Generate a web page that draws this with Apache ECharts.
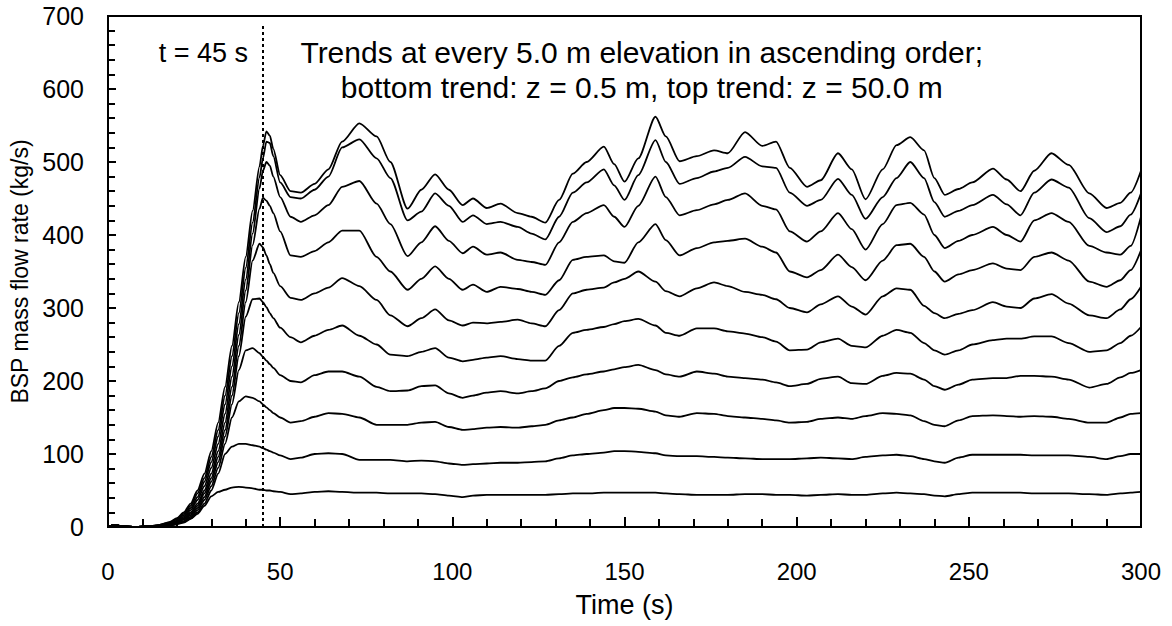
<!DOCTYPE html>
<html>
<head>
<meta charset="utf-8">
<script src="https://cdn.jsdelivr.net/npm/echarts@6/dist/echarts.min.js"></script>
<style>
  html, body { margin: 0; padding: 0; background: #fff; }
  #chart { width: 1172px; height: 626px; }
</style>
</head>
<body>
<div id="chart"></div>
<script>
// Sample times (s)
const time = [0,2,4,8,12,15,18,20,22,24,26,28,30,32,34,36,38,40,42,44,45,46,47,48,50,53,56,60,64,68,73,78,82,87,91,95,99,103,106,110,114,119,123,127,131,135,139,144,147,150,154,159,162,166,171,176,180,185,190,194,198,203,207,212,216,220,225,229,233,237,240,243,247,251,257,261,265,269,274,279,285,290,294,297,300];

// BSP mass flow rate (kg/s), one trend per elevation, bottom (z = 0.5 m) to top (z = 50.0 m)
const trend1 = [0,3,1,0,1, 0,2,4,6,11,18,29,42,48,51, 54,55,54,53,51,51,50,50,49,48, 45,46,48,49,48,47,47,46,46,46, 45,43,41,43,44,44,44,44,44,45, 46,46,47,47,47,47,47,46,45,44, 44,44,45,45,44,44,43,44,45,44, 44,46,47,46,45,43,42,45,47,47, 47,47,46,46,46,45,44,46,47,48];
const trend2 = [0,3,1,0,1, 0,2,4,7,12,20,32,50,73,100, 110,114,114,112,110,108,106,104,102,98, 93,95,100,101,100,92,92,92,90,91, 90,87,85,86,87,88,88,89,90,94, 98,100,102,104,104,103,101,98,97,97, 96,95,94,93,93,93,94,95,94,93, 96,98,99,97,93,90,88,95,99,99, 99,99,98,98,98,96,93,97,100,100];
const trend3 = [0,3,1,0,1, 1,3,5,8,14,23,37,56,81,114, 150,172,179,177,172,168,164,160,156,150, 143,145,151,156,155,150,140,140,140,143, 144,137,133,134,136,137,136,138,140,146, 150,155,160,163,163,162,158,153,151,156, 155,152,150,148,146,143,144,148,150,148, 152,156,155,153,145,140,138,146,152,153, 152,151,152,151,148,143,143,150,155,156];
const trend4 = [0,3,1,0,1, 1,3,6,10,16,26,41,62,89,124, 168,215,242,245,238,233,228,223,218,208, 200,198,208,213,213,206,192,186,187,193, 194,183,177,180,184,186,183,186,190,200, 205,209,213,216,219,222,215,209,206,213, 210,206,204,202,198,193,196,203,206,197, 196,207,211,210,202,193,188,195,202,204, 204,207,207,206,202,191,196,205,211,215];
const trend5 = [0,3,1,0,1, 1,4,6,11,18,29,46,67,96,133, 180,234,288,312,313,308,301,293,286,273, 260,253,262,270,276,262,250,236,234,240, 245,232,227,229,232,234,230,228,228,248, 266,270,274,278,282,285,276,266,262,272, 272,268,265,260,254,242,243,253,258,248, 246,262,270,266,252,242,236,242,250,256, 258,258,261,261,252,240,242,252,262,274];
const trend6 = [0,3,1,0,1, 1,4,7,12,20,32,50,73,104,143, 192,248,308,365,388,383,372,360,348,330, 314,311,320,328,341,330,311,290,275,286, 298,283,276,280,279,281,284,279,275,297, 320,325,328,335,340,350,336,323,316,327, 335,330,322,318,312,300,294,305,316,302, 291,316,327,325,303,293,286,292,297,308, 302,300,313,319,306,290,286,298,312,329];
const trend7 = [0,3,1,0,1, 2,5,8,14,23,37,56,81,114,155, 206,263,324,386,436,451,447,440,430,405, 372,370,378,390,406,406,370,350,325,340, 357,340,325,332,322,329,326,322,318,338, 366,370,372,364,362,390,415,393,372,382, 390,392,395,384,376,350,342,352,373,356, 338,365,386,388,370,350,336,346,352,361, 354,352,370,376,365,336,329,338,352,379];
const trend8 = [0,3,1,0,1, 2,6,10,16,26,41,62,89,124,168, 220,278,339,402,464,488,500,495,480,452, 425,418,427,441,466,474,443,415,371,390, 412,392,375,384,373,376,366,363,359,390, 418,430,441,425,411,440,480,452,427,434, 442,448,457,440,435,405,391,405,430,408, 380,415,441,444,428,400,382,392,400,411, 400,391,420,430,418,385,376,373,385,425];
const trend9 = [0,3,1,0,1, 3,6,11,18,29,46,67,96,133,180, 234,293,355,417,479,505,528,526,508,472, 452,450,462,480,520,531,505,478,420,432, 457,440,418,427,415,418,411,402,394,425, 458,472,490,468,448,482,530,500,470,478, 487,492,507,494,492,458,440,448,477,455, 422,452,478,500,478,445,425,433,441,455, 442,427,458,476,465,423,404,412,428,457];
const trend10 = [0,3,1,0,1, 3,7,12,20,32,50,73,104,143,192, 248,308,370,433,494,522,542,536,518,482, 460,458,470,490,528,553,535,500,436,462, 483,462,441,450,437,443,430,425,417,448, 484,500,521,497,473,505,562,535,501,508, 516,512,541,522,528,492,466,475,512,490, 449,490,523,534,516,478,455,463,472,491, 476,460,488,512,496,457,437,444,458,488];

const trends = [trend1, trend2, trend3, trend4, trend5, trend6, trend7, trend8, trend9, trend10];

// Marked instant and annotation text
const markTime = 45;
const markLabel = 't = 45 s';
const noteLines = [
  'Trends at every 5.0 m elevation in ascending order;',
  'bottom trend: z = 0.5 m, top trend: z = 50.0 m'
];

const FONT = '"Liberation Sans", Arial, Helvetica, sans-serif';

const chart = echarts.init(document.getElementById('chart'), null, { renderer: 'svg' });

const series = trends.map((vals, k) => ({
  type: 'line',
  name: 'trend ' + (k + 1),
  data: time.map((t, i) => [t, vals[i]]),
  showSymbol: false,
  symbol: 'none',
  smooth: 0.25,
  smoothMonotone: 'x',
  lineStyle: { color: '#000', width: 1.8 },
  z: 3
}));

// dotted vertical marker at t = 45 s
series[0].markLine = {
  silent: true,
  symbol: ['none', 'none'],
  label: { show: false },
  lineStyle: { color: '#000', type: [3, 3], width: 2 },
  data: [[{ coord: [markTime, 0] }, { coord: [markTime, 688] }]]
};

const option = {
  animation: false,
  backgroundColor: '#fff',
  grid: {
    left: 108, right: 31, top: 16, bottom: 99,
    show: true, borderColor: '#000', borderWidth: 2, backgroundColor: 'transparent'
  },
  xAxis: {
    type: 'value', min: 0, max: 300, interval: 50,
    name: 'Time (s)', nameLocation: 'middle', nameGap: 64,
    nameTextStyle: { fontFamily: FONT, fontSize: 27, color: '#000' },
    axisLine: { show: true, onZero: false, lineStyle: { color: '#000', width: 2 } },
    axisTick: { show: true, inside: true, length: 10, lineStyle: { color: '#000', width: 2 } },
    minorTick: { show: true, splitNumber: 5, length: 8, lineStyle: { color: '#000', width: 2 } },
    axisLabel: { margin: 32, fontFamily: FONT, fontSize: 24, color: '#000' },
    splitLine: { show: false }, minorSplitLine: { show: false }
  },
  yAxis: {
    type: 'value', min: 0, max: 700, interval: 100,
    name: 'BSP mass flow rate (kg/s)', nameLocation: 'middle', nameGap: 76, nameRotate: 90,
    nameTextStyle: { fontFamily: FONT, fontSize: 23, color: '#000' },
    axisLine: { show: true, onZero: false, lineStyle: { color: '#000', width: 2 } },
    axisTick: { show: true, inside: true, length: 8, lineStyle: { color: '#000', width: 2 } },
    minorTick: { show: true, splitNumber: 5, length: 7, lineStyle: { color: '#000', width: 2 } },
    axisLabel: { margin: 24, fontFamily: FONT, fontSize: 25, color: '#000' },
    splitLine: { show: false }, minorSplitLine: { show: false }
  },
  series: series
};

chart.setOption(option);

// annotations anchored to data coordinates
const pMark = chart.convertToPixel({ gridIndex: 0 }, [markTime, 650]);
const pNote1 = chart.convertToPixel({ gridIndex: 0 }, [155, 650]);
const pNote2 = chart.convertToPixel({ gridIndex: 0 }, [155, 602]);
const markStyle = { font: '27px ' + FONT, fill: '#000', verticalAlign: 'middle' };
const noteStyle = { font: '30px ' + FONT, fill: '#000', verticalAlign: 'middle' };

chart.setOption({
  graphic: [
    { type: 'text', x: pMark[0] - 15, y: pMark[1], style: Object.assign({ text: markLabel, align: 'right' }, markStyle) },
    { type: 'text', x: pNote1[0], y: pNote1[1], style: Object.assign({ text: noteLines[0], align: 'center' }, noteStyle) },
    { type: 'text', x: pNote2[0], y: pNote2[1], style: Object.assign({ text: noteLines[1], align: 'center' }, noteStyle) }
  ]
});
</script>
</body>
</html>
